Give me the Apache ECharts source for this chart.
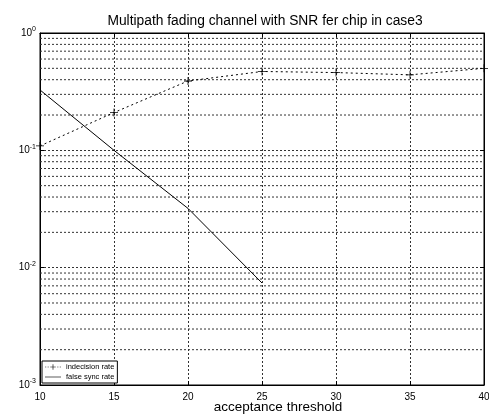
<!DOCTYPE html>
<html>
<head>
<meta charset="utf-8">
<script src="https://cdn.jsdelivr.net/npm/echarts@6/dist/echarts.min.js"></script>
<style>html,body{margin:0;padding:0;background:#fff;}#c{width:489px;height:415px;}</style>
</head>
<body>
<div id="c"></div>
<script>
var titleText = 'Multipath fading channel with SNR fer chip in case3';
var xName = 'acceptance threshold';
var xIndecision = [10, 15, 20, 25, 30, 35, 40];
var indecisionRate = [0.109, 0.21, 0.39, 0.47, 0.46, 0.44, 0.50];
var xFalseSync = [10, 15, 20, 25];
var falseSyncRate = [0.327, 0.10, 0.032, 0.0074];
var seriesNames = ['indecision rate', 'false sync rate'];
var xRange = [10, 40];
var minorGridValues = [];
[0.001, 0.01, 0.1].forEach(function (d) {
  for (var k = 2; k <= 9; k++) minorGridValues.push(+(d * k).toPrecision(3));
});

var font = '"Liberation Sans", Arial, sans-serif';
var gridLine = { color: '#333', width: 1, type: [2, 2] };
var plusPath = 'path://M0,4.5L4.5,4.5L4.5,0L5.5,0L5.5,4.5L10,4.5L10,5.5L5.5,5.5L5.5,10L4.5,10L4.5,5.5L0,5.5Z';
var legendDotPlus = 'path://M0,0M20,10M0,4.6L1.6,4.6L1.6,5.4L0,5.4ZM3.2,4.6L4.8,4.6L4.8,5.4L3.2,5.4Z' +
  'M15.2,4.6L16.8,4.6L16.8,5.4L15.2,5.4ZM18.4,4.6L20,4.6L20,5.4L18.4,5.4Z' +
  'M6.5,4.6L9.6,4.6L9.6,1.5L10.4,1.5L10.4,4.6L13.5,4.6L13.5,5.4L10.4,5.4L10.4,8.5L9.6,8.5L9.6,5.4L6.5,5.4Z';
var legendSolid = 'path://M0,0M20,10M0,4.6L20,4.6L20,5.4L0,5.4Z';
var chart = echarts.init(document.getElementById('c'), null, { renderer: 'canvas' });
function pairs(xs, ys) { return xs.map(function (x, i) { return [x, ys[i]]; }); }

var minorSeries = minorGridValues.map(function (v) {
  return {
    name: 'grid-' + v, type: 'line', silent: true, symbol: 'none',
    data: [[xRange[0], v], [xRange[1], v]],
    lineStyle: gridLine, z: 1
  };
});

chart.setOption({
  animation: false,
  backgroundColor: '#fff',
  title: {
    text: titleText, left: 260, top: 9, textAlign: 'center',
    textStyle: { fontFamily: font, fontSize: 13.8, fontWeight: 'normal', color: '#000' }
  },
  grid: { left: 40, right: 5, top: 33, bottom: 30, show: true, borderColor: '#000', borderWidth: 1, backgroundColor: 'transparent', outerBoundsMode: 'none', containLabel: false },
  legend: {
    show: true, orient: 'vertical', left: 42, bottom: 32, z: 20,
    data: [
      { name: seriesNames[0], icon: legendDotPlus },
      { name: seriesNames[1], icon: legendSolid }
    ],
    backgroundColor: '#fff', borderColor: '#000', borderWidth: 1,
    padding: [2, 3, 2, 3], itemGap: 2, itemWidth: 16, itemHeight: 8,
    textStyle: { fontFamily: font, fontSize: 7.5, color: '#000' }
  },
  xAxis: [{
    type: 'value', min: xRange[0], max: xRange[1], interval: 5,
    name: xName, nameLocation: 'middle', nameGap: 15, nameMoveOverlap: false,
    nameTextStyle: { fontFamily: font, fontSize: 13.5, color: '#000', padding: [0, 0, 0, 32] },
    axisLine: { show: true, lineStyle: { color: '#000' } },
    axisTick: { inside: true, length: 4, lineStyle: { color: '#000' } },
    axisLabel: { fontFamily: font, fontSize: 10, color: '#000', margin: 7 },
    splitLine: { show: true, lineStyle: gridLine }
  }, {
    type: 'value', min: xRange[0], max: xRange[1], interval: 5, position: 'top',
    axisLine: { show: true, lineStyle: { color: '#000' } },
    axisTick: { inside: true, length: 4, lineStyle: { color: '#000' } },
    axisLabel: { show: false }, splitLine: { show: false }
  }],
  yAxis: [{
    type: 'log', logBase: 10, min: 0.001, max: 1,
    axisLine: { show: true, lineStyle: { color: '#000' } },
    axisTick: { inside: true, length: 4, lineStyle: { color: '#000' } },
    axisLabel: {
      margin: 4,
      formatter: function (v) {
        var e = Math.round(Math.log10(v));
        return '{b|10}{e|' + e + '}';
      },
      rich: {
        b: { fontFamily: font, fontSize: 10, color: '#000' },
        e: { fontFamily: font, fontSize: 7, color: '#000', verticalAlign: 'top', padding: [0, 0, 7, 0] }
      }
    },
    splitLine: { show: true, lineStyle: gridLine }
  }, {
    type: 'log', logBase: 10, min: 0.001, max: 1, position: 'right',
    axisLine: { show: true, lineStyle: { color: '#000' } },
    axisTick: { inside: true, length: 4, lineStyle: { color: '#000' } },
    axisLabel: { show: false }, splitLine: { show: false }
  }],
  series: minorSeries.concat([{
    name: seriesNames[0], type: 'line', data: pairs(xIndecision, indecisionRate),
    symbol: plusPath, symbolSize: 8, showSymbol: true,
    lineStyle: { color: '#000', width: 1, type: [2, 3] },
    itemStyle: { color: '#000' }, z: 5
  }, {
    name: seriesNames[1], type: 'line', data: pairs(xFalseSync, falseSyncRate),
    symbol: 'none', lineStyle: { color: '#000', width: 1 },
    itemStyle: { color: '#000' }, z: 5
  }])
});
</script>
</body>
</html>
